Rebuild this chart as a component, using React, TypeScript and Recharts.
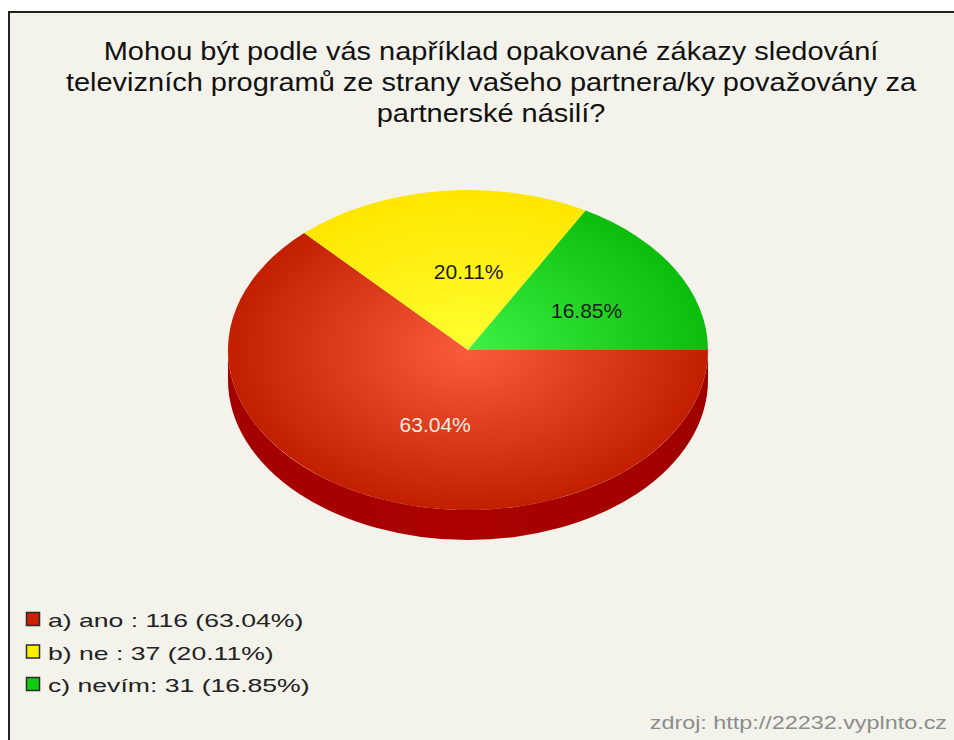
import React from 'react';
import { PieChart, Pie, Cell, Legend } from 'recharts';

// ---- data ----
const categories = ['a) ano', 'b) ne', 'c) nevím'];
const counts = [116, 37, 31];
const percentLabels = ['63.04%', '20.11%', '16.85%'];
const legendLabels = ['a) ano : 116 (63.04%)', 'b) ne : 37 (20.11%)', 'c) nevím: 31 (16.85%)'];
const titleLines = [
  'Mohou být podle vás například opakované zákazy sledování',
  'televizních programů ze strany vašeho partnera/ky považovány za',
  'partnerské násilí?',
];
const sourceText = 'zdroj: http://22232.vyplnto.cz';

// ---- styles ----
const sliceColors = ['#cc2200', '#ffee00', '#11cc11'];
const gradStops = [
  ['#f95c3c', '#c21f00'],
  ['#ffff30', '#ffe600'],
  ['#3cf244', '#0cbd0c'],
];
const labelColors = ['#fbe9e2', '#1a1a1a', '#1a1a1a'];
const W = 944;
const H = 727;
const CX = 458;
const CY = 337;
const RX = 240;
const RATIO = 160 / 240;
const DEPTH = 30;
const FONT = '"Liberation Sans", Arial, sans-serif';
const RAD = Math.PI / 180;

const data = categories.map((c, i) => ({ name: c, value: counts[i] }));

function renderSector(props: any) {
  const { cx, cy, outerRadius, startAngle, endAngle, index } = props;
  const rx = outerRadius;
  const ry = outerRadius * RATIO;
  const P = (a: number) => [cx + rx * Math.cos(a * RAD), cy - ry * Math.sin(a * RAD)];
  const [x1, y1] = P(startAngle);
  const [x2, y2] = P(endAngle);
  const delta = endAngle - startAngle;
  const large = Math.abs(delta) > 180 ? 1 : 0;
  const sweep = delta < 0 ? 1 : 0;
  const top = `M${cx},${cy} L${x1},${y1} A${rx},${ry} 0 ${large} ${sweep} ${x2},${y2} Z`;
  const lo = Math.min(startAngle, endAngle);
  const hi = Math.max(startAngle, endAngle);
  const walls: string[] = [];
  for (const [a, b] of [[-180, 0], [180, 360], [-540, -360]]) {
    const s = Math.max(lo, a);
    const e = Math.min(hi, b);
    if (e > s + 0.01) {
      const [sx, sy] = P(s);
      const [ex, ey] = P(e);
      walls.push(
        `M${sx},${sy} A${rx},${ry} 0 0 0 ${ex},${ey} L${ex},${ey + DEPTH} A${rx},${ry} 0 0 1 ${sx},${sy + DEPTH} Z`
      );
    }
  }
  const gid = `slice-grad-${index}`;
  const [c0, c1] = gradStops[index % gradStops.length];
  return (
    <g>
      <defs>
        <radialGradient
          id={gid}
          gradientUnits="userSpaceOnUse"
          cx={cx}
          cy={cy}
          r={rx}
          gradientTransform={`translate(${cx} ${cy}) scale(1 ${RATIO}) translate(${-cx} ${-cy})`}
        >
          <stop offset="0%" stopColor={c0} />
          <stop offset="100%" stopColor={c1} />
        </radialGradient>
        <linearGradient id={`wall-grad-${index}`} x1="0" y1="0" x2="1" y2="0">
          <stop offset="0%" stopColor="#a40000" />
          <stop offset="50%" stopColor="#ab0000" />
          <stop offset="100%" stopColor="#a00000" />
        </linearGradient>
      </defs>
      {walls.map((d, i) => (
        <path key={i} d={d} fill={`url(#wall-grad-${index})`} stroke="none" />
      ))}
      <path d={top} fill={`url(#${gid})`} stroke="none" />
    </g>
  );
}

function renderLabel(props: any) {
  const { cx, cy, midAngle, outerRadius, index } = props;
  const rx = outerRadius;
  const ry = outerRadius * RATIO;
  const x = cx + 0.5 * rx * Math.cos(midAngle * RAD) + 15;
  const y = cy - 0.5 * ry * Math.sin(midAngle * RAD) + 1;
  return (
    <text
      x={x}
      y={y}
      textAnchor="middle"
      dominantBaseline="central"
      fontFamily={FONT}
      fontSize={21}
      fill={labelColors[index]}
    >
      {percentLabels[index]}
    </text>
  );
}

function renderLegend() {
  const baseY = [34, 66.5, 99];
  return (
    <svg width={420} height={120} style={{ display: 'block' }}>
      {legendLabels.map((t, i) => (
        <g key={t}>
          <rect
            x={16.5}
            y={baseY[i] - 14.5}
            width={13}
            height={13}
            fill={sliceColors[i]}
            stroke="#2a2a2a"
            strokeWidth={1.5}
          />
          <text
            transform={`translate(38 ${baseY[i]}) scale(1.4 1)`}
            x={0}
            y={0}
            fontFamily={FONT}
            fontSize={19}
            fill="#222"
          >
            {t}
          </text>
        </g>
      ))}
    </svg>
  );
}

export default function App() {
  return (
    <div
      style={{
        position: 'absolute',
        left: 8,
        top: 11,
        width: W,
        height: H,
        borderTop: '2px solid #222',
        borderLeft: '2px solid #222',
        background: '#f3f3eb',
      }}
    >
      <svg
        width={W}
        height={H}
        style={{ position: 'absolute', left: 0, top: 0, pointerEvents: 'none' }}
      >
        {titleLines.map((t, i) => (
          <text
            key={i}
            transform={`translate(481 ${47 + i * 31}) scale(1.115 1)`}
            x={0}
            y={0}
            textAnchor="middle"
            fontFamily={FONT}
            fontSize={26}
            fill="#111"
          >
            {t}
          </text>
        ))}
        <text
          transform="translate(937 716) scale(1.23 1)"
          x={0}
          y={0}
          textAnchor="end"
          fontFamily={FONT}
          fontSize={19}
          fill="#8c8c8c"
        >
          {sourceText}
        </text>
      </svg>
      <div style={{ position: 'absolute', left: 0, top: 0 }}>
        <PieChart width={W} height={H} margin={{ top: 0, right: 0, bottom: 0, left: 0 }}>
          <Pie
            data={data}
            dataKey="value"
            nameKey="name"
            cx={CX}
            cy={CY}
            outerRadius={RX}
            startAngle={0}
            endAngle={-360}
            stroke="none"
            isAnimationActive={false}
            shape={renderSector}
            activeShape={renderSector}
            inactiveShape={renderSector}
            label={renderLabel}
            labelLine={false}
          >
            {data.map((d, i) => (
              <Cell key={d.name} fill={sliceColors[i]} />
            ))}
          </Pie>
          <Legend
            content={renderLegend}
            wrapperStyle={{ position: 'absolute', left: 0, top: 580, width: 420, height: 120 }}
          />
        </PieChart>
      </div>
    </div>
  );
}
